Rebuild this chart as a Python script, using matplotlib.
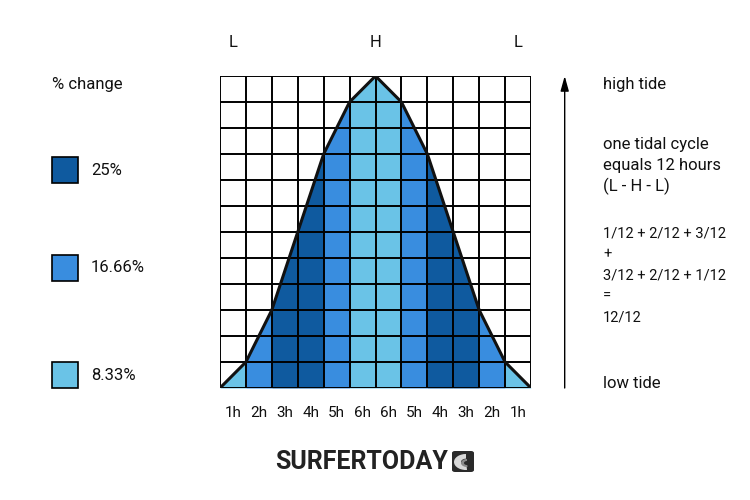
import matplotlib
matplotlib.use("Agg")
import matplotlib.pyplot as plt
from matplotlib.patches import Rectangle, FancyBboxPatch, Wedge

plt.rcParams['font.family'] = ['Roboto', 'DejaVu Sans']

# rule of twelfths: water level (in twelfths) at each hour boundary
tide_levels = [0, 1, 3, 6, 9, 11, 12, 11, 9, 6, 3, 1, 0]
hour_labels = ['1h', '2h', '3h', '4h', '5h', '6h', '6h', '5h', '4h', '3h', '2h', '1h']
column_change = ['8.33%', '16.66%', '25%', '25%', '16.66%', '8.33%',
                 '8.33%', '16.66%', '25%', '25%', '16.66%', '8.33%']
legend_labels = ['25%', '16.66%', '8.33%']
change_colors = {'25%': '#0f5a9f', '16.66%': '#398ddf', '8.33%': '#6ac3e7'}
top_labels = ['L', 'H', 'L']
top_label_pos = [0.5, 6, 11.5]

W, H = 750, 500
fig = plt.figure(figsize=(7.5, 5), dpi=100)
ax = fig.add_axes([220 / W, 1 - 388 / H, 311 / W, 312 / H])

n = len(hour_labels)
for i in range(n):
    ax.fill_between([i, i + 1], [tide_levels[i], tide_levels[i + 1]],
                    color=change_colors[column_change[i]], lw=0, zorder=1)

ax.vlines(range(n + 1), 0, 12, color='black', lw=1.4, zorder=2)
ax.hlines(range(13), 0, n, color='black', lw=1.4, zorder=2)
ax.plot(range(n + 1), tide_levels, color='#111111', lw=2.2, zorder=3,
        solid_joinstyle='miter')

ax.set_xlim(0, n)
ax.set_ylim(0, 12)
for s in ax.spines.values():
    s.set_visible(False)
ax.set_xticks([i + 0.5 for i in range(n)])
ax.set_xticklabels(hour_labels, fontsize=11, color='#111111')
ax.tick_params(axis='x', length=0, pad=13)
ax.set_yticks([])

# L H L above the grid
for lab, x in zip(top_labels, top_label_pos):
    ax.text(x, 13.3, lab, ha='center', va='center', fontsize=12, color='#111111')

# arrow on the right: low tide -> high tide
ax.annotate('', xy=(13.3, 12), xytext=(13.3, 0), xycoords='data',
            annotation_clip=False,
            arrowprops=dict(arrowstyle='-|>,head_length=0.9,head_width=0.25',
                            color='black', lw=1.0,
                            mutation_scale=10, shrinkA=0, shrinkB=0))

# left legend
fig.text(52 / W, 1 - 85 / H, '% change', fontsize=12, va='center', color='#111111')
legend_y = [170, 268, 375]
for lab, y in zip(legend_labels, legend_y):
    fig.add_artist(Rectangle((52 / W, 1 - (y + 13) / H), 26 / W, 26 / H,
                             transform=fig.transFigure, facecolor=change_colors[lab],
                             edgecolor='black', lw=1.2))
    fig.text(91 / W, 1 - y / H, lab, fontsize=12, va='center', color='#111111')

# right side notes
notes = [
    ('high tide', 85, 12),
    ('one tidal cycle', 145, 12),
    ('equals 12 hours', 165, 12),
    ('(L - H - L)', 186, 12),
    ('1/12 + 2/12 + 3/12', 233, 10.5),
    ('+', 254, 10.5),
    ('3/12 + 2/12 + 1/12', 276, 10.5),
    ('=', 296, 10.5),
    ('12/12', 318, 10.5),
    ('low tide', 383, 12),
]
for txt, y, fs in notes:
    fig.text(603 / W, 1 - y / H, txt, fontsize=fs, va='center', color='#111111')

# logo
fig.text(362 / W, 1 - 462 / H, 'SURFERTODAY', fontsize=18, fontweight='bold',
         ha='center', va='center', color='#222222')
fig.add_artist(FancyBboxPatch((452 / W, 1 - 472 / H), 22 / W, 21 / H,
                              boxstyle='round,pad=0,rounding_size=0.004',
                              transform=fig.transFigure, facecolor='#2a2a2a',
                              edgecolor='none'))
fig.add_artist(Wedge((466 / W, 1 - 462 / H), 12 / W, 90, 275, width=7 / W,
                     transform=fig.transFigure, facecolor='#d8d8d8', edgecolor='none'))
fig.add_artist(Wedge((467 / W, 1 - 463 / H), 6 / W, 90, 275, width=3 / W,
                     transform=fig.transFigure, facecolor='#8a8a8a', edgecolor='none'))

fig.savefig('out.png', dpi=100, facecolor='white')
